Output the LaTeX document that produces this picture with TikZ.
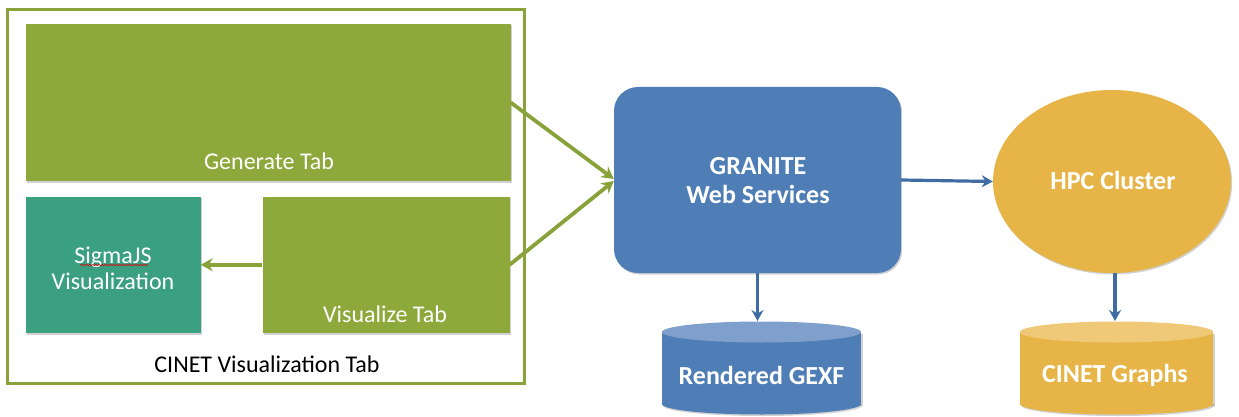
\documentclass[tikz,border=0pt]{standalone}
\usepackage{fontspec}
\setmainfont{Carlito}
\usetikzlibrary{arrows.meta,shapes.geometric,shadows,decorations.pathmorphing}
\definecolor{leaf}{HTML}{8DA83B}
\definecolor{leafline}{HTML}{89A23A}
\definecolor{teal2}{HTML}{3BA07F}
\definecolor{steel}{HTML}{4F7DB5}
\definecolor{steeltop}{HTML}{7FA0CC}
\definecolor{steelarrow}{HTML}{3F6CA3}
\definecolor{gold}{HTML}{E6B447}
\definecolor{goldtop}{HTML}{EFC977}
\begin{document}
\begin{tikzpicture}[x=1pt,y=-1pt,
  shade/.style={drop shadow={shadow xshift=1.2pt,shadow yshift=-1.5pt,opacity=0.3,fill=black!60}},
  gbox/.style={fill=leaf,draw=none,shade,inner sep=0pt},
  frame/.style={draw=leafline,line width=3.8pt},
  wtext/.style={text=white,font=\fontsize{24}{26}\selectfont,align=center,inner sep=0pt},
  wbold/.style={text=white,font=\fontsize{26}{29}\selectfont\bfseries,align=center,inner sep=0pt},
  btext/.style={text=black,font=\fontsize{24}{27}\selectfont,inner sep=0pt},
  garrow/.style={draw=leafline,line width=3.8pt,-{Stealth[length=12pt,width=13pt]}},
  barrow/.style={draw=steelarrow,line width=3.2pt,-{Stealth[length=11pt,width=12pt]}}]
\useasboundingbox (0,0) rectangle (1239,417);
% outer frame
\draw[frame] (7.5,9.5) rectangle (524.5,383.5);
\node[btext] (cap) at (267,364) {CINET Visualization Tab};
% tabs
\node[gbox,minimum width=485,minimum height=157] (gen) at (268,102.5) {};
\node[wtext] (gent) at (269,161) {Generate Tab};
\node[gbox,fill=teal2,minimum width=175,minimum height=136.5] (sig) at (113,264.75) {};
\node[wtext] (sigt) at (113,268) {SigmaJS\\Visualization};
\draw[red!85!black,line width=0.6pt,decorate,decoration={snake,amplitude=0.7pt,segment length=3pt}] (80,265) -- (148,265);
\node[gbox,minimum width=247,minimum height=136.5] (vis) at (386,264.75) {};
\node[wtext] (vist) at (385,314) {Visualize Tab};
% GRANITE
\node[fill=steel,rounded corners=24pt,minimum width=287,minimum height=186,shade] (gran) at (757.5,180) {};
\node[wbold] (grant) at (758,181) {GRANITE\\Web Services};
% HPC cluster
\node[ellipse,fill=gold,minimum width=238,minimum height=183,inner sep=0pt,shade] (hpc) at (1112,181.5) {};
\node[wbold] (hpct) at (1113,180) {HPC Cluster};
% Rendered GEXF cylinder
\fill[black!60,opacity=0.3] (663.5,333.5) rectangle (862.5,405.5);
\fill[black!60,opacity=0.3] (762.5,405.5) ellipse [x radius=99.5,y radius=10.5];
\fill[steel] (662,332) rectangle (861,404);
\fill[steel] (761.5,404) ellipse [x radius=99.5,y radius=10.5];
\fill[steeltop] (761.5,332) ellipse [x radius=99.5,y radius=10.5];
\node[wbold] (rg) at (761.5,375) {Rendered GEXF};
\coordinate (rgtop) at (757.5,321);
% CINET Graphs cylinder
\fill[black!60,opacity=0.3] (1021.5,333.5) rectangle (1214.5,405.5);
\fill[black!60,opacity=0.3] (1118,405.5) ellipse [x radius=96.5,y radius=10.5];
\fill[gold] (1020,332) rectangle (1213,404);
\fill[gold] (1116.5,404) ellipse [x radius=96.5,y radius=10.5];
\fill[goldtop] (1116.5,332) ellipse [x radius=96.5,y radius=10.5];
\node[wbold] (cg) at (1115,375) {CINET Graphs};
\coordinate (cgtop) at (1115,321);
% connectors
\draw[garrow] (gen.east) -- ([yshift=1pt]gran.west);
\draw[garrow] (vis.east) -- ([yshift=-1pt]gran.west);
\draw[garrow] (vis.west) -- (sig.east);
\draw[barrow] (gran.east) -- (hpc.west);
\draw[barrow] (gran.south) -- (rgtop);
\draw[barrow] (hpc.south -| cgtop) -- (cgtop);
\end{tikzpicture}
\end{document}
